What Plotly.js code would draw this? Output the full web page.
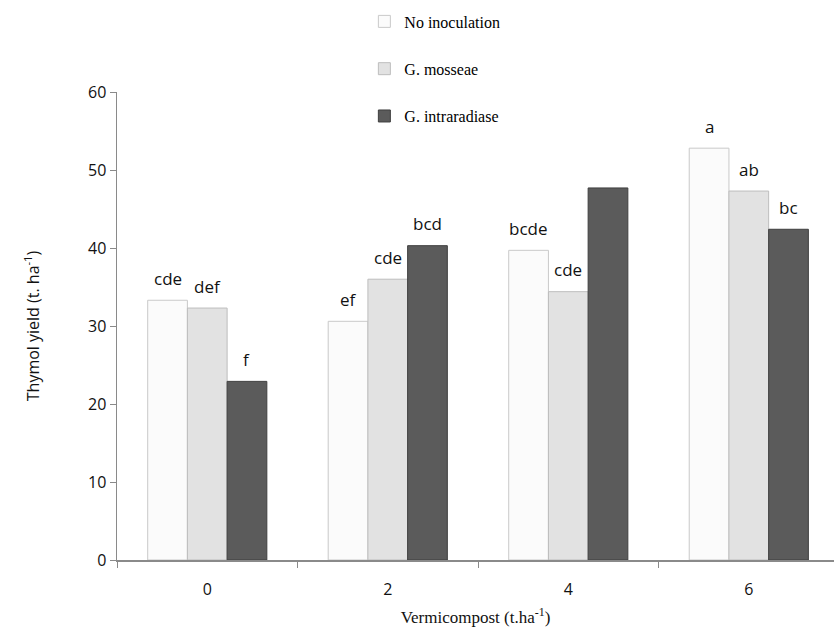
<!DOCTYPE html>
<html><head><meta charset="utf-8">
<script src="https://cdn.plot.ly/plotly-3.0.1.min.js"></script>
<style>body{margin:0;background:#fff}#c{width:834px;height:632px}</style>
</head><body><div id="c"></div>
<script>
const categories = ['0', '2', '4', '6'];
const seriesNames = ['No inoculation', 'G. mosseae', 'G. intraradiase'];
const noInoculation = [33.3, 30.6, 39.7, 52.8];
const gMosseae = [32.3, 36.0, 34.4, 47.3];
const gIntraradiase = [22.9, 40.3, 47.7, 42.4];
const lettersNo = ['cde', 'ef', 'bcde', 'a'];
const lettersMo = ['def', 'cde', 'cde', 'ab'];
const lettersIn = ['f', 'bcd', '', 'bc'];

const values = [noInoculation, gMosseae, gIntraradiase];
const letters = [lettersNo, lettersMo, lettersIn];
const fills = ['#fbfbfb', '#e2e2e2', '#5b5b5b'];
const edges = ['#c9c9c9', '#bdbdbd', '#3f3f3f'];

const bargap = 0.34;
const w = (1 - bargap) / 3;

const traces = values.map((v, s) => ({
  type: 'bar', name: seriesNames[s], x: categories, y: v,
  legendgroup: 'g' + s,
  marker: {color: fills[s], line: {color: edges[s], width: 1}},
  hoverinfo: 'none'
}));

const annotations = [];
values.forEach((v, s) => {
  v.forEach((val, i) => {
    if (!letters[s][i]) return;
    annotations.push({
      xref: 'x', yref: 'y', x: i + (s - 1) * w, y: val,
      text: letters[s][i], showarrow: false, yanchor: 'middle', yshift: 22,
      font: {family: 'Open Sans, sans-serif', size: 17, color: '#111'}
    });
  });
});

const layout = {
  width: 834, height: 632,
  margin: {l: 117, r: 0, t: 92, b: 72},
  paper_bgcolor: '#fff', plot_bgcolor: '#fff',
  barmode: 'group', bargap: bargap, bargroupgap: 0,
  showlegend: true,
  legend: {
    x: 0.345, y: 1.187, xanchor: 'left', yanchor: 'top',
    traceorder: 'grouped', tracegroupgap: 23.5,
    font: {family: 'Liberation Serif, serif', size: 16, color: '#000'},
    bgcolor: 'rgba(0,0,0,0)'
  },
  xaxis: {
    type: 'category', range: [-0.5, 3.472],
    showline: true, linecolor: '#8a8a8a', linewidth: 1.5,
    ticks: 'outside', tickson: 'boundaries', ticklen: 6, tickcolor: '#8a8a8a',
    ticklabelstandoff: 14,
    showgrid: false, zeroline: false,
    tickfont: {family: 'Open Sans, sans-serif', size: 16, color: '#111'},
    title: {text: 'Vermicompost (t.ha<sup>-1</sup>)', standoff: 12,
      font: {family: 'Liberation Serif, serif', size: 17, color: '#111'}}
  },
  yaxis: {
    range: [0, 60], dtick: 10,
    showline: true, linecolor: '#8a8a8a', linewidth: 1.5,
    ticks: 'outside', ticklen: 6, tickcolor: '#8a8a8a',
    showgrid: false, zeroline: false,
    tickfont: {family: 'Open Sans, sans-serif', size: 16, color: '#111'},
    title: {text: 'Thymol yield (t. ha<sup>-1</sup>)', standoff: 44,
      font: {family: 'Open Sans, sans-serif', size: 16, color: '#111'}}
  },
  annotations: annotations
};

Plotly.newPlot('c', traces, layout, {displayModeBar: false, staticPlot: true});
</script></body></html>
